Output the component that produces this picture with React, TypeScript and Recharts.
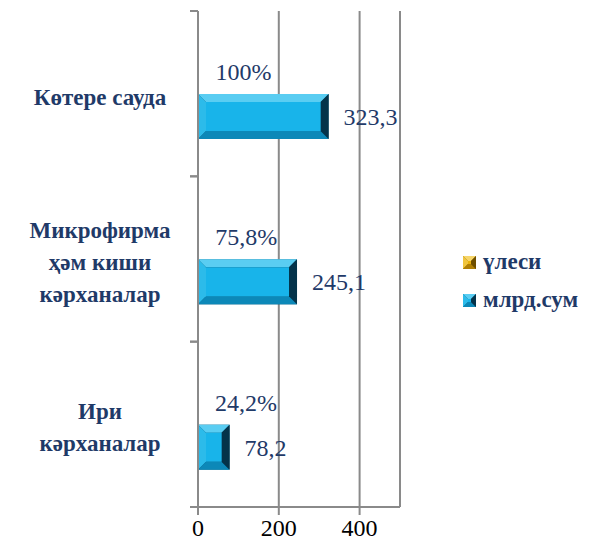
import React from 'react';
import { BarChart, Bar, XAxis, YAxis, CartesianGrid, Legend, LabelList } from 'recharts';

// category labels, split into the lines shown on the chart
const categories = ['Көтере сауда', 'Микрофирма ҳәм киши кәрханалар', 'Ири кәрханалар'];
const categoryLines = [['Көтере сауда'], ['Микрофирма', 'ҳәм киши', 'кәрханалар'], ['Ири', 'кәрханалар']];
const amounts = [323.3, 245.1, 78.2]; // млрд.сум
const shares = [1, 0.758, 0.242]; // үлеси
const xTicks = [0, 200, 400];
const seriesOrder = ['share', 'amount'];

const chartData = categories.map((c, i) => ({
  category: c,
  share: shares[i],
  amount: amounts[i],
}));

const NAVY = '#1F3A68';
const GRID = '#8A8A8A';
const SERIF = 'Liberation Serif';

const palettes: Record<string, any> = {
  amount: { face: '#18B4EA', top: '#5ACDF2', left: '#2CBBEA', bottom: '#0C88B8', right: '#04334A', edge: '#0A5D7E' },
  share: { face: '#E8B20E', top: '#F7D66A', left: '#F0C53E', bottom: '#B07F05', right: '#6E4E00', edge: '#8A6200' },
};

const bevel = (x: number, y: number, width: number, height: number, pal: any, size = 7) => {
  if (!(width > 0) || !(height > 0)) return null;
  const b = Math.max(0, Math.min(size, width / 2, height / 2));
  const x2 = x + width;
  const y2 = y + height;
  return (
    <g>
      <rect x={x} y={y} width={width} height={height} fill={pal.edge} />
      <polygon points={`${x},${y} ${x2},${y} ${x2 - b},${y + b} ${x + b},${y + b}`} fill={pal.top} />
      <polygon points={`${x},${y} ${x + b},${y + b} ${x + b},${y2 - b} ${x},${y2}`} fill={pal.left} />
      <polygon points={`${x},${y2} ${x + b},${y2 - b} ${x2 - b},${y2 - b} ${x2},${y2}`} fill={pal.bottom} />
      <polygon points={`${x2},${y} ${x2},${y2} ${x2 - b},${y2 - b} ${x2 - b},${y + b}`} fill={pal.right} />
      <rect x={x + b} y={y + b} width={Math.max(0, width - 2 * b)} height={Math.max(0, height - 2 * b)} fill={pal.face} />
    </g>
  );
};

const fmtAmount = (v: any) => Number(v).toFixed(1).replace('.', ',');
const fmtShare = (v: any) => String(Number((Number(v) * 100).toFixed(1))).replace('.', ',') + '%';

const CategoryTick = (props: any) => {
  const { x, y, payload, index } = props;
  const half = payload && payload.offset ? payload.offset : 82.7;
  const lines = categoryLines[index] || [payload.value];
  const lh = 32;
  const startY = y + 3 - ((lines.length - 1) * lh) / 2;
  return (
    <g>
      <line x1={x - 8} y1={y - half} x2={x} y2={y - half} stroke={GRID} strokeWidth={2} />
      <line x1={x - 8} y1={y + half} x2={x} y2={y + half} stroke={GRID} strokeWidth={2} />
      <text
        x={x - 98}
        y={startY}
        textAnchor="middle"
        dominantBaseline="central"
        fill={NAVY}
        fontFamily={SERIF}
        fontWeight="bold"
        fontSize={23}
      >
        {lines.map((l: string, i: number) => (
          <tspan key={i} x={x - 98} y={startY + i * lh}>{l}</tspan>
        ))}
      </text>
    </g>
  );
};

const LegendContent = (props: any) => {
  const items = [...(props.payload || [])].sort(
    (a: any, b: any) => seriesOrder.indexOf(a.dataKey) - seriesOrder.indexOf(b.dataKey)
  );
  return (
    <div style={{ fontFamily: SERIF, fontWeight: 'bold', fontSize: 23, color: NAVY }}>
      {items.map((it: any, i: number) => (
        <div key={i} style={{ display: 'flex', alignItems: 'center', height: 38, whiteSpace: 'nowrap' }}>
          <svg width={13} height={13} style={{ flex: 'none' }}>
            {bevel(0, 0, 13, 13, palettes[it.dataKey] || palettes.amount, 5)}
          </svg>
          <span style={{ marginLeft: 7 }}>{it.value}</span>
        </div>
      ))}
    </div>
  );
};

export default function App() {
  return (
    <div style={{ margin: -8, fontFamily: SERIF }}>
      <BarChart
        width={593}
        height={550}
        data={chartData}
        layout="vertical"
        margin={{ top: 11, right: 193, bottom: 0, left: 0 }}
        barSize={45}
        barGap={0}
      >
        <CartesianGrid horizontal={false} stroke={GRID} strokeWidth={2} />
        <XAxis
          type="number"
          domain={[0, 500]}
          ticks={xTicks}
          height={43}
          axisLine={{ stroke: GRID, strokeWidth: 2 }}
          tickLine={{ stroke: GRID, strokeWidth: 2 }}
          tickSize={8}
          tickMargin={4}
          tick={{ fill: '#000', fontFamily: SERIF, fontSize: 24 }}
        />
        <YAxis
          type="category"
          dataKey="category"
          width={198}
          axisLine={{ stroke: GRID, strokeWidth: 2 }}
          tickLine={false}
          tickSize={0}
          tickMargin={0}
          tick={<CategoryTick />}
          interval={0}
        />
        <Legend
          layout="vertical"
          align="center"
          verticalAlign="middle"
          content={<LegendContent />}
          wrapperStyle={{ left: 463, top: 243, width: 130 }}
        />
        <Bar
          dataKey="share"
          name="үлеси"
          fill="#E8B20E"
          isAnimationActive={false}
          shape={(p: any) => bevel(p.x, p.y, p.width, p.height, palettes.share)}
        >
          <LabelList
            dataKey="share"
            position="right"
            offset={17}
            formatter={fmtShare}
            fill={NAVY}
            fontFamily={SERIF}
            fontSize={24}
          />
        </Bar>
        <Bar
          dataKey="amount"
          name="млрд.сум"
          fill="#18B4EA"
          isAnimationActive={false}
          shape={(p: any) => bevel(p.x, p.y, p.width, p.height, palettes.amount, 8)}
        >
          <LabelList
            dataKey="amount"
            position="right"
            offset={15}
            formatter={fmtAmount}
            fill={NAVY}
            fontFamily={SERIF}
            fontSize={24}
          />
        </Bar>
      </BarChart>
    </div>
  );
}
